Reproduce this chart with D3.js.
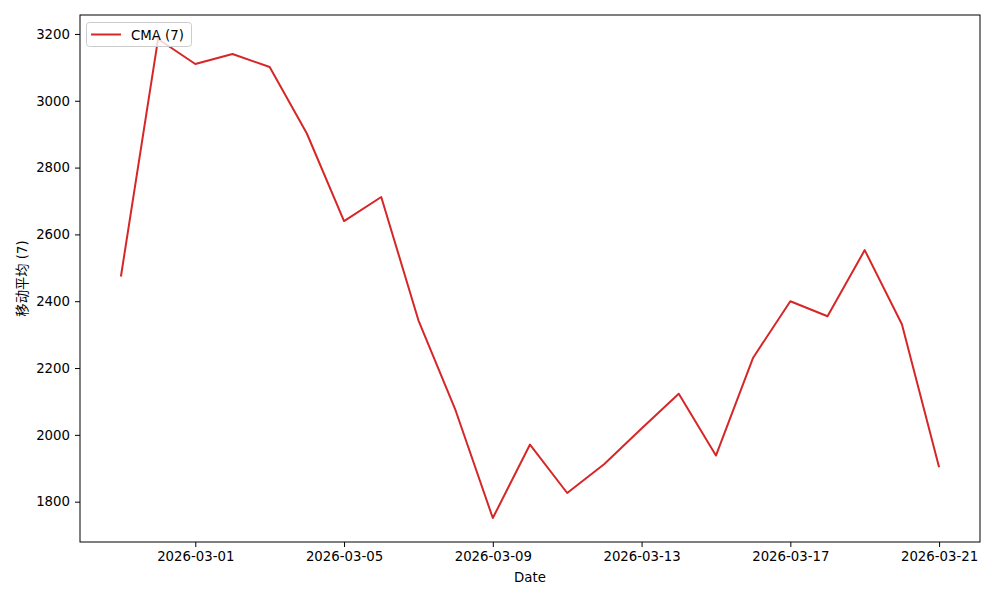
<!DOCTYPE html>
<html>
<head>
<meta charset="utf-8">
<script src="https://cdn.jsdelivr.net/npm/d3@7"></script>
<style>
  html, body { margin: 0; padding: 0; background: #fff; }
  svg { display: block; font-family: "DejaVu Sans", sans-serif; }
</style>
</head>
<body>
<svg id="chart" width="1000" height="600"></svg>
<script>
const dates = ["2026-02-27","2026-02-28","2026-03-01","2026-03-02","2026-03-03","2026-03-04",
  "2026-03-05","2026-03-06","2026-03-07","2026-03-08","2026-03-09","2026-03-10","2026-03-11",
  "2026-03-12","2026-03-13","2026-03-14","2026-03-15","2026-03-16","2026-03-17","2026-03-18",
  "2026-03-19","2026-03-20","2026-03-21"];
const cmaValues = [2474, 3185, 3110, 3140, 3101, 2902, 2640, 2712, 2343, 2073, 1751, 1971, 1826,
  1913, 2019, 2123, 1938, 2231, 2400, 2355, 2553, 2331, 1903];
const xTickLabels = ["2026-03-01","2026-03-05","2026-03-09","2026-03-13","2026-03-17","2026-03-21"];
const yTickValues = [1800, 2000, 2200, 2400, 2600, 2800, 3000, 3200];
const seriesName = "CMA (7)";
const xAxisTitle = "Date";
const yAxisTitle = "移动平均 (7)";

const parse = d3.utcParse("%Y-%m-%d");
const data = dates.map((d, i) => ({ date: parse(d), value: cmaValues[i] }));

const svg = d3.select("#chart");
const L = 80, R = 980, T = 15, B = 542;
const color = "#d62728";

const xExt = d3.extent(data, d => d.date);
const xSpan = xExt[1] - xExt[0];
const x = d3.scaleUtc()
  .domain([new Date(+xExt[0] - 0.05 * xSpan), new Date(+xExt[1] + 0.05 * xSpan)])
  .range([L, R]);
const yExt = d3.extent(cmaValues);
const ySpan = yExt[1] - yExt[0];
const y = d3.scaleLinear()
  .domain([yExt[0] - 0.05 * ySpan, yExt[1] + 0.05 * ySpan])
  .range([B, T]);

const fmt = d3.utcFormat("%Y-%m-%d");
const xAxis = d3.axisBottom(x)
  .tickValues(xTickLabels.map(parse))
  .tickFormat(fmt)
  .tickSize(5).tickPadding(5);
const yAxis = d3.axisLeft(y)
  .tickValues(yTickValues)
  .tickFormat(d3.format("d"))
  .tickSize(5).tickPadding(5);

const gx = svg.append("g").attr("transform", `translate(0,${B})`).call(xAxis);
const gy = svg.append("g").attr("transform", `translate(${L},0)`).call(yAxis);
[gx, gy].forEach(g => {
  g.select(".domain").remove();
  g.selectAll(".tick line").attr("stroke", "#000").attr("stroke-width", 1);
  g.selectAll(".tick text").attr("fill", "#000").style("font-size", "13.3px")
    .style("font-family", "'DejaVu Sans', sans-serif");
});

const line = d3.line().x(d => x(d.date)).y(d => y(d.value));
svg.append("path").datum(data)
  .attr("d", line)
  .attr("fill", "none")
  .attr("stroke", color)
  .attr("stroke-width", 2)
  .attr("stroke-linejoin", "round");

// frame
svg.append("rect").attr("x", L).attr("y", T).attr("width", R - L).attr("height", B - T)
  .attr("fill", "none").attr("stroke", "#000").attr("stroke-width", 1);

// axis titles
svg.append("text").attr("x", (L + R) / 2).attr("y", 582)
  .attr("text-anchor", "middle").style("font-size", "13.3px").text(xAxisTitle);
svg.append("text").attr("transform", `translate(27,${(T + B) / 2}) rotate(-90)`)
  .attr("text-anchor", "middle").style("font-size", "13.3px")
  .style("font-family", "'DejaVu Sans', 'Noto Sans CJK SC', sans-serif").text(yAxisTitle);

// legend
const lg = svg.append("g");
lg.append("rect").attr("x", 86.5).attr("y", 22.5).attr("width", 105).attr("height", 24)
  .attr("rx", 3).attr("fill", "#fff").attr("fill-opacity", 0.8)
  .attr("stroke", "#ccc").attr("stroke-width", 1);
lg.append("line").attr("x1", 91).attr("x2", 121).attr("y1", 34.5).attr("y2", 34.5)
  .attr("stroke", color).attr("stroke-width", 2);
lg.append("text").attr("x", 131).attr("y", 39.5).style("font-size", "13.3px").text(seriesName);
</script>
</body>
</html>
